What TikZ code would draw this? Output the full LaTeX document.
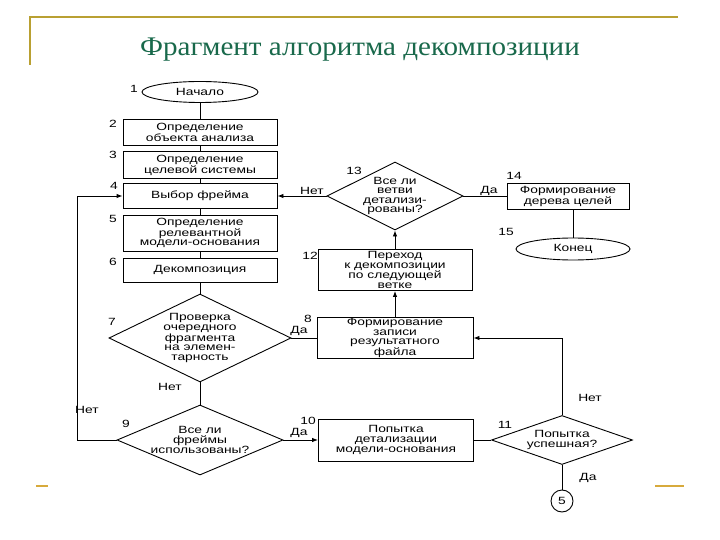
\documentclass[tikz,border=0pt]{standalone}
\usepackage{fontspec}
\setmainfont{Liberation Serif}
\newfontfamily\fcf[FakeStretch=1.32]{Liberation Sans}
\newfontfamily\ttlf[FakeStretch=1.08]{Liberation Serif}
\usetikzlibrary{shapes.geometric,arrows.meta}
\definecolor{ttlgreen}{RGB}{25,105,75}
\definecolor{frameline}{RGB}{185,160,50}
\definecolor{dashgold}{RGB}{215,170,60}
\tikzset{
  fc/.style={font=\fcf\fontsize{10.5}{9.6}\selectfont},
  blk/.style={fc, draw, line width=0.9bp, align=center, inner sep=0pt},
  dia/.style={blk, diamond, inner sep=-16bp},
  ovl/.style={blk, ellipse},
  num/.style={fc, inner sep=0pt},
  lab/.style={fc, inner sep=0pt},
  conn/.style={line width=0.9bp},
  arr/.style={conn, -{Latex[length=6bp,width=4.5bp]}},
}
\begin{document}
\begin{tikzpicture}[x=1bp,y=-1bp]
\useasboundingbox (0,0) rectangle (720,540);
% frame decorations
\draw[frameline, line width=1.5bp] (30,65) -- (30,17) -- (678,17);
\draw[dashgold, line width=1.5bp] (36,486) -- (48,486);
\draw[dashgold, line width=1.5bp] (655,486) -- (684,486);
% title
\node[text=ttlgreen, font=\ttlf\fontsize{27}{30}\selectfont, inner sep=0pt, anchor=base] (title) at (360,56) {Фрагмент алгоритма декомпозиции};
% nodes
\node[ovl, minimum width=116bp, minimum height=21bp] (n1) at (200,92) {Начало};
\node[blk, minimum width=154bp, minimum height=26bp] (n2) at (200,132.5) {Определение\\объекта анализа};
\node[blk, minimum width=154bp, minimum height=27bp] (n3) at (200,165) {Определение\\целевой системы};
\node[blk, minimum width=154bp, minimum height=25bp] (n4) at (200,196) {Выбор фрейма};
\node[blk, minimum width=154bp, minimum height=36bp] (n5) at (200,233) {Определение\\релевантной\\модели-основания};
\node[blk, minimum width=154bp, minimum height=24bp] (n6) at (200,270) {Декомпозиция};
\node[dia, minimum width=182bp, minimum height=88bp] (n7) at (200,338) {Проверка\\очередного\\фрагмента\\на элемен-\\тарность};
\node[dia, minimum width=166bp, minimum height=70bp] (n9) at (200,440) {Все ли\\фреймы\\использованы?};
\node[blk, minimum width=156bp, minimum height=41bp] (n8) at (395,338) {Формирование\\записи\\результатного\\файла};
\node[blk, minimum width=155bp, minimum height=42bp] (n10) at (396,440) {Попытка\\детализации\\модели-основания};
\node[dia, minimum width=141bp, minimum height=49bp] (n11) at (562,440) {Попытка\\успешная?};
\node[blk, minimum width=154bp, minimum height=41bp] (n12) at (395,270) {Переход\\к декомпозиции\\по следующей\\ветке};
\node[dia, minimum width=136bp, minimum height=68bp] (n13) at (395,196) {Все ли\\ветви\\детализи-\\рованы?};
\node[blk, minimum width=122bp, minimum height=26bp] (n14) at (568,196) {Формирование\\дерева целей};
\node[ovl, minimum width=114bp, minimum height=22bp] (n15) at (573,249) {Конец};
\node[blk, circle, minimum size=22bp] (c5) at (562,501) {5};
% number labels
\node[num] (l1) at (134,89) {1};
\node[num] (l2) at (113,124) {2};
\node[num] (l3) at (113,155) {3};
\node[num] (l4) at (114,186) {4};
\node[num] (l5) at (113,219) {5};
\node[num] (l6) at (113,262) {6};
\node[num] (l7) at (112,322) {7};
\node[num] (l8) at (308,319) {8};
\node[num] (l9) at (126,424) {9};
\node[num] (l10) at (308,421) {10};
\node[num] (l11) at (505,425) {11};
\node[num] (l12) at (310,256) {12};
\node[num] (l13) at (354,171) {13};
\node[num] (l14) at (514,176) {14};
\node[num] (l15) at (506,232) {15};
% connector labels
\node[lab] (t1) at (170,387) {Нет};
\node[lab] (t2) at (87,410) {Нет};
\node[lab] (t3) at (299,331) {Да};
\node[lab] (t4) at (299,433) {Да};
\node[lab] (t5) at (312,191) {Нет};
\node[lab] (t6) at (489,191) {Да};
\node[lab] (t7) at (590,398) {Нет};
\node[lab] (t8) at (588,478) {Да};
% connectors
\coordinate (lp) at (77,440);
\draw[conn] (n1) -- (n2);
\draw[conn] (n2) -- (n3);
\draw[conn] (n3) -- (n4);
\draw[conn] (n4) -- (n5);
\draw[conn] (n5) -- (n6);
\draw[conn] (n6) -- (n7.north);
\draw[conn] (n7.south) -- (n9.north);
\draw[conn] (n7.east) -- (n8.west);
\draw[arr] (n9.west) -- (lp) |- (n4.west);
\draw[arr] (n9.east) -- (n10.west);
\draw[conn] (n10.east) -- (n11.west);
\draw[arr] (n11.north) |- (n8.east);
\draw[conn] (n11.south) -- (c5.north);
\draw[arr] (n8.north) -- (n12.south);
\draw[arr] (n12.north) -- (n13.south);
\draw[arr] (n13.west) -- (n4.east);
\draw[conn] (n13.east) -- (n14.west);
\draw[conn] (n15.north) -- (n15.north |- n14.south);
\end{tikzpicture}
\end{document}
